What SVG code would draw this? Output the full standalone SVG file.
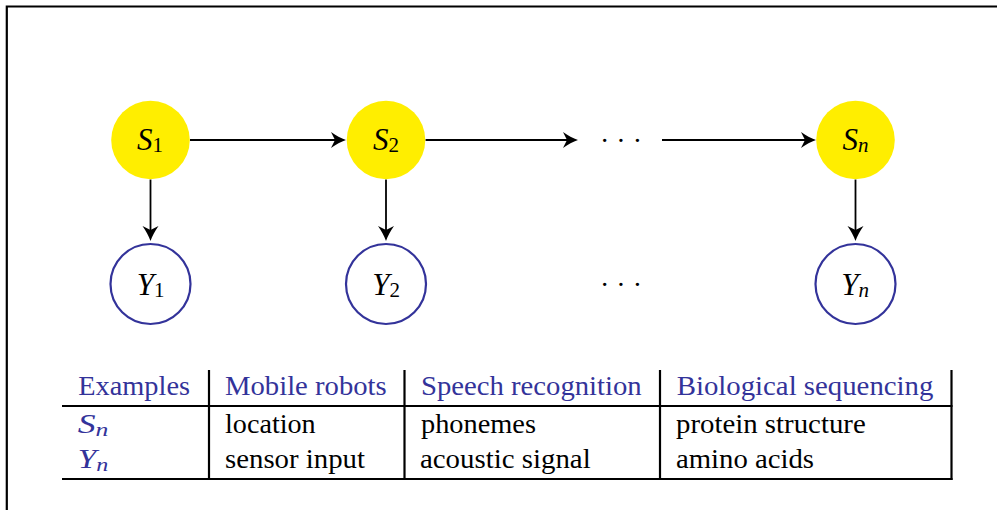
<svg xmlns="http://www.w3.org/2000/svg" width="997" height="510" viewBox="0 0 997 510">
  <style>
    .state { fill: #ffee00; stroke: none; }
    .obs { fill: #ffffff; stroke: #33339a; stroke-width: 2.2; }
    .math { font-family: "Liberation Serif", "Times New Roman", serif; font-style: italic; font-size: 31px; fill: #000; }
    .sub { font-style: normal; font-size: 21px; }
    .subi { font-style: italic; font-size: 21px; }
    .edge { stroke: #000; stroke-width: 1.8; fill: none; marker-end: url(#head); }
    .rule { stroke: #000; stroke-width: 2.2; fill: none; }
    .cell { font-family: "Liberation Serif", "Times New Roman", serif; font-size: 26.5px; fill: #000; }
    .hdr { fill: #33339a; }
    .dots { font-family: "Liberation Serif", "Times New Roman", serif; font-size: 28px; fill: #000; }
  </style>
  <defs>
    <marker id="head" viewBox="-16 -10 20 20" markerWidth="20" markerHeight="20" refX="-4" refY="0" markerUnits="userSpaceOnUse" orient="auto" overflow="visible">
      <path d="M0,0 C-5,-1.8 -10,-4.5 -15,-8 L-11,0 L-15,8 C-10,4.5 -5,1.8 0,0 Z" fill="#000"/>
    </marker>
  </defs>

  <!-- frame -->
  <path d="M6.8,510 V6.5 H997" fill="none" stroke="#000" stroke-width="2.2"/>

  <!-- connectors -->
  <g id="connectors">
    <line class="edge" x1="190" y1="140" x2="342" y2="140"/>
    <line class="edge" x1="425.5" y1="140" x2="574" y2="140"/>
    <line class="edge" x1="662" y1="140" x2="812" y2="140"/>
    <line class="edge" x1="150.5" y1="179.5" x2="150.5" y2="237"/>
    <line class="edge" x1="386" y1="179.5" x2="386" y2="237"/>
    <line class="edge" x1="855.5" y1="179.5" x2="855.5" y2="237"/>
  </g>

  <!-- hidden states -->
  <g id="S1">
    <circle class="state" cx="150.5" cy="140" r="39.3"/>
    <text class="math" x="150" y="149.5" text-anchor="middle">S<tspan class="sub" dy="2">1</tspan></text>
  </g>
  <g id="S2">
    <circle class="state" cx="386" cy="140" r="39.3"/>
    <text class="math" x="386" y="149.5" text-anchor="middle">S<tspan class="sub" dy="2">2</tspan></text>
  </g>
  <g id="Sdots">
    <text class="dots" x="621" y="150" text-anchor="middle">· · ·</text>
  </g>
  <g id="Sn">
    <circle class="state" cx="855.5" cy="140" r="39.3"/>
    <text class="math" x="855.5" y="149.5" text-anchor="middle">S<tspan class="subi" dy="2">n</tspan></text>
  </g>

  <!-- observations -->
  <g id="Y1">
    <circle class="obs" cx="150.5" cy="284" r="40"/>
    <text class="math" x="150.5" y="294.5" text-anchor="middle">Y<tspan class="sub" dy="2">1</tspan></text>
  </g>
  <g id="Y2">
    <circle class="obs" cx="386" cy="284" r="40"/>
    <text class="math" x="386" y="294.5" text-anchor="middle">Y<tspan class="sub" dy="2">2</tspan></text>
  </g>
  <g id="Ydots">
    <text class="dots" x="621" y="294" text-anchor="middle">· · ·</text>
  </g>
  <g id="Yn">
    <circle class="obs" cx="855.5" cy="284" r="40"/>
    <text class="math" x="855" y="294.5" text-anchor="middle">Y<tspan class="subi" dy="2">n</tspan></text>
  </g>

  <!-- examples table -->
  <g id="table">
    <line class="rule" x1="62" y1="406" x2="952.5" y2="406"/>
    <line class="rule" x1="62" y1="479" x2="952.5" y2="479"/>
    <line class="rule" x1="209" y1="370" x2="209" y2="480"/>
    <line class="rule" x1="404.5" y1="370" x2="404.5" y2="480"/>
    <line class="rule" x1="660" y1="370" x2="660" y2="480"/>
    <line class="rule" x1="951.5" y1="370" x2="951.5" y2="480"/>

    <text class="cell hdr" x="78.3" y="395" textLength="111.7" lengthAdjust="spacingAndGlyphs">Examples</text>
    <text class="cell hdr" x="225" y="395" textLength="161.7" lengthAdjust="spacingAndGlyphs">Mobile robots</text>
    <text class="cell hdr" x="421" y="395" textLength="220.7" lengthAdjust="spacingAndGlyphs">Speech recognition</text>
    <text class="cell hdr" x="676.7" y="395" textLength="256.7" lengthAdjust="spacingAndGlyphs">Biological sequencing</text>

    <text class="cell hdr" x="77.7" y="432.7" textLength="30.6" lengthAdjust="spacingAndGlyphs"><tspan font-style="italic">S</tspan><tspan font-style="italic" font-size="19" dy="3">n</tspan></text>
    <text class="cell" x="225" y="432.7" textLength="90.7" lengthAdjust="spacingAndGlyphs">location</text>
    <text class="cell" x="421" y="432.7" textLength="115" lengthAdjust="spacingAndGlyphs">phonemes</text>
    <text class="cell" x="676" y="432.7" textLength="189.7" lengthAdjust="spacingAndGlyphs">protein structure</text>

    <text class="cell hdr" x="77.7" y="468.3" textLength="30.6" lengthAdjust="spacingAndGlyphs"><tspan font-style="italic">Y</tspan><tspan font-style="italic" font-size="19" dy="3">n</tspan></text>
    <text class="cell" x="225" y="468.3" textLength="140" lengthAdjust="spacingAndGlyphs">sensor input</text>
    <text class="cell" x="420" y="468.3" textLength="170.7" lengthAdjust="spacingAndGlyphs">acoustic signal</text>
    <text class="cell" x="676" y="468.3" textLength="138" lengthAdjust="spacingAndGlyphs">amino acids</text>
  </g>
</svg>
